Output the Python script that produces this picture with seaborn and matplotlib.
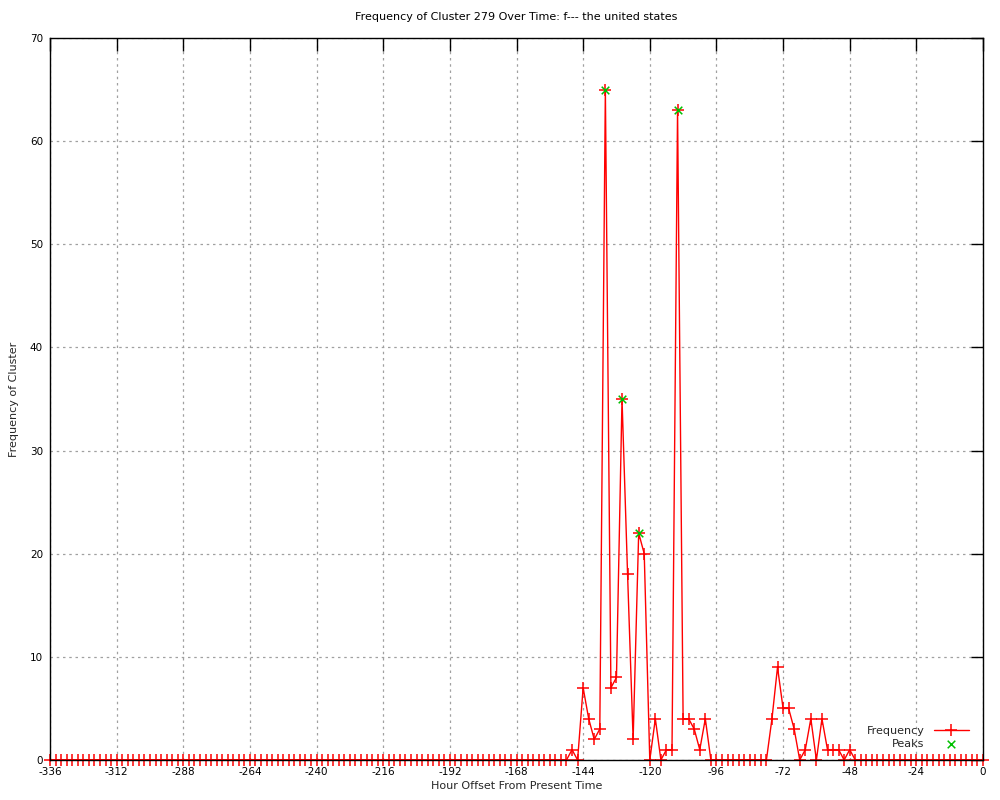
import numpy as np
import seaborn as sns
import matplotlib.pyplot as plt

# Hourly offsets (every 2 hours) and cluster frequency
hours = np.arange(-336, 1, 2)
freq = [
    0, 0, 0, 0, 0, 0, 0, 0, 0, 0, 0, 0,        # -336 .. -314
    0, 0, 0, 0, 0, 0, 0, 0, 0, 0, 0, 0,        # -312 .. -290
    0, 0, 0, 0, 0, 0, 0, 0, 0, 0, 0, 0,        # -288 .. -266
    0, 0, 0, 0, 0, 0, 0, 0, 0, 0, 0, 0,        # -264 .. -242
    0, 0, 0, 0, 0, 0, 0, 0, 0, 0, 0, 0,        # -240 .. -218
    0, 0, 0, 0, 0, 0, 0, 0, 0, 0, 0, 0,        # -216 .. -194
    0, 0, 0, 0, 0, 0, 0, 0, 0, 0, 0, 0,        # -192 .. -170
    0, 0, 0, 0, 0, 0, 0, 0, 0, 0, 1, 0,        # -168 .. -146
    7, 4, 2, 3, 65, 7, 8, 35, 18, 2, 22, 20,   # -144 .. -122
    0, 4, 0, 1, 1, 63, 4, 4, 3, 1, 4, 0,       # -120 .. -98
    0, 0, 0, 0, 0, 0, 0, 0, 0, 0, 4, 9,        # -96 .. -74
    5, 5, 3, 0, 1, 4, 0, 4, 1, 1, 1, 0,        # -72 .. -50
    1, 0, 0, 0, 0, 0, 0, 0, 0, 0, 0, 0,        # -48 .. -26
    0, 0, 0, 0, 0, 0, 0, 0, 0, 0, 0, 0,        # -24 .. -2
    0,                                         # 0
]

peak_hours = [-136, -130, -124, -110]
peak_values = [65, 35, 22, 63]

xticks = list(range(-336, 1, 24))
yticks = list(range(0, 71, 10))

sns.set_style('white')
plt.rcParams['font.family'] = ['DejaVu Sans']
plt.rcParams['axes.unicode_minus'] = False

fig = plt.figure(figsize=(10, 8), dpi=100)
ax = fig.add_axes([0.05, 0.05, 0.933, 0.9025])

# zorder 2 so the black axis line stays on top of the zero segments
sns.lineplot(x=hours, y=freq, ax=ax, color='red', linewidth=1,
             marker='+', markersize=8, markeredgewidth=1.1,
             markeredgecolor='red', label='Frequency', clip_on=False, zorder=2)
sns.scatterplot(x=peak_hours, y=peak_values, ax=ax, color='#00c000',
                marker='x', s=30, linewidth=1.1, label='Peaks', zorder=5)

ax.set_xlim(-336, 0)
ax.set_ylim(0, 70)
ax.set_xticks(xticks)
ax.set_yticks(yticks)
ax.tick_params(direction='in', length=9, width=1, top=True, right=True,
               labelsize=7.5, colors='black', pad=5)
ax.grid(True, linestyle=(0, (2, 3)), color='#a0a0a0', linewidth=0.9)
for s in ax.spines.values():
    s.set_color('black')
    s.set_linewidth(1)
    s.set_zorder(3)

ax.set_title('Frequency of Cluster 279 Over Time: f--- the united states',
             fontsize=8, pad=13, color='black')
ax.set_xlabel('Hour Offset From Present Time', fontsize=8, labelpad=3)
ax.set_ylabel('Frequency of Cluster', fontsize=8, labelpad=8)

leg = ax.legend(loc='lower right', bbox_to_anchor=(0.997, 0.0), frameon=False,
                markerfirst=False, fontsize=8, handlelength=3.2,
                labelspacing=0.25, borderaxespad=0.6)

fig.savefig('out.png', dpi=100)
